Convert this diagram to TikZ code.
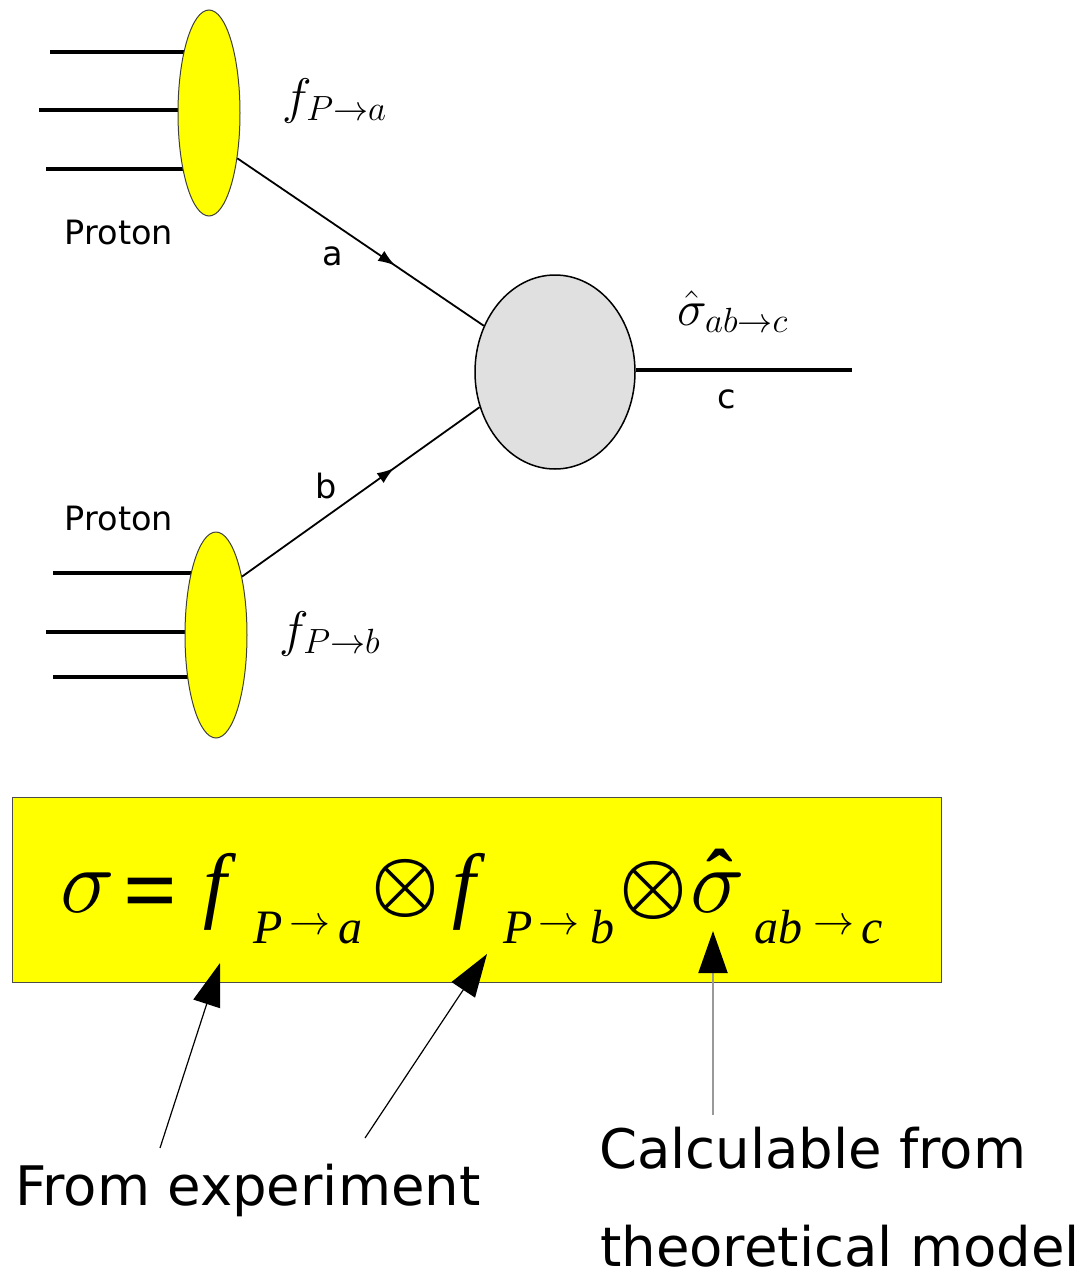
\RequirePackage{fix-cm}
\documentclass[tikz,border=0pt]{standalone}
\usepackage{fontspec}
\usepackage{graphicx}
\usepackage{amsmath}
\usepackage{bm}
\newfontfamily\dvs{DejaVu Sans}
\newfontfamily\tms{Liberation Serif}
\usetikzlibrary{arrows.meta,decorations.markings,shapes.geometric}
\pgfdeclarelayer{bg}
\pgfsetlayers{bg,main}
\definecolor{blobgray}{HTML}{E0E0E0}
\definecolor{pdfyellow}{RGB}{255,255,0}
\begin{document}
\begin{tikzpicture}[x=1pt,y=-1pt,
  lab/.style={font=\dvs\fontsize{33.5}{36}\selectfont, inner sep=0, anchor=base},
  bigtext/.style={font=\dvs\fontsize{54.5}{60}\selectfont, inner sep=0, anchor=base west},
  mlab/.style={font=\fontsize{50}{54}\selectfont, inner sep=0, anchor=base west},
  pdf/.style={ellipse, draw=black!75, line width=1pt, fill=pdfyellow, minimum width=62pt, minimum height=206pt, inner sep=0},
  quark/.style={line width=4pt},
  parton/.style={line width=1.8pt, postaction={decorate},
    decoration={markings, mark=at position 0.64 with {\arrow{Latex[length=17pt,width=12pt]}}}},
  fbig/.style={font=\tms\itshape\fontsize{84}{90}\selectfont, inner sep=0, anchor=base},
  fsig/.style={font=\fontsize{92}{92}\selectfont, inner sep=0, anchor=base},
  fsub/.style={font=\tms\itshape\fontsize{48}{50}\selectfont, inner sep=0, anchor=base},
  farr/.style={font=\fontsize{41}{45}\selectfont, inner sep=0, anchor=center},
  fop/.style={font=\fontsize{76}{80}\selectfont, inner sep=0, anchor=center},
  ptr/.style={line width=1.2pt, -{Triangle[length=43pt,width=28pt]}}
]
\useasboundingbox (0,0) rectangle (1080,1269);

% proton PDFs and hard blob
\node[pdf] (pa) at (209,113) {};
\node[pdf] (pb) at (216,635) {};
\node[ellipse, draw=black, line width=1.5pt, fill=blobgray, minimum width=160pt, minimum height=194pt, inner sep=0] (hs) at (555,372) {};

% quark lines behind the ellipses
\coordinate (qa1) at (50,52);
\coordinate (qa2) at (39,110);
\coordinate (qa3) at (46,169);
\coordinate (qb1) at (53,573);
\coordinate (qb2) at (46,632);
\coordinate (qb3) at (53,677);
\begin{pgfonlayer}{bg}
\draw[quark] (qa1) -- (qa1 -| pa);
\draw[quark] (qa2) -- (qa2 -| pa);
\draw[quark] (qa3) -- (qa3 -| pa);
\draw[quark] (qb1) -- (qb1 -| pb);
\draw[quark] (qb2) -- (qb2 -| pb);
\draw[quark] (qb3) -- (qb3 -| pb);
\end{pgfonlayer}

% partons
\draw[parton] (pa.-58) -- (hs.147);
\draw[parton] (pb.66) -- (hs.205);
\coordinate (cend) at (852,370);
\draw[line width=3.5pt] (hs.east |- cend) -- (cend);

% labels
\node[lab] (proton1) at (119,244) {Proton};
\node[lab] (proton2) at (119,530) {Proton};
\node[lab] (la) at (333,265) {a};
\node[lab] (lb) at (326,498) {b};
\node[lab] (lc) at (727,408) {c};
\node[mlab] (fa) at (282,113) {$f_{P\rightarrow a}$};
\node[mlab] (fb) at (279,646) {$f_{P\rightarrow b}$};
\node[mlab] (sh) at (677,325) {$\hat\sigma_{ab\rightarrow c}$};

% formula box
\node[draw=black!70, line width=1pt, fill=pdfyellow, minimum width=929pt, minimum height=185pt, inner sep=0, anchor=north west] (box) at (12,797) {};
\node[fsig] (s1) at (88,912) {$\sigma$};
\node[fbig, font=\tms\bfseries\fontsize{95}{95}\selectfont] (eq) at (151,922) {=};
\node[fbig] (f1) at (215,912) {f};
\node[fsub] (p1) at (268,943) {P};
\node[farr] (r1) at (310,927) {$\rightarrow$};
\node[fsub] (a1) at (350,943) {a};
\node[fop] (o1) at (405,888) {$\bm{\otimes}$};
\node[fbig] (f2) at (464,912) {f};
\node[fsub] (p2) at (518,943) {P};
\node[farr] (r2) at (559,927) {$\rightarrow$};
\node[fsub] (b2) at (602,943) {b};
\node[fop] (o2) at (653,890) {$\bm{\otimes}$};
\node[fsig] (s2) at (718,912) {$\sigma$};
\node[font=\tms\bfseries\fontsize{80}{80}\selectfont, inner sep=0, anchor=north] (hat) at (720,849) {ˆ};
\node[fsub] (ab) at (778,943) {ab};
\node[farr] (r3) at (834,927) {$\rightarrow$};
\node[fsub] (c3) at (872,943) {c};

% pointers
\coordinate (t1) at (220,963);
\coordinate (u1) at (160,1148);
\coordinate (t2) at (487,954);
\coordinate (u2) at (365,1138);
\coordinate (t3) at (713,931);
\coordinate (u3) at (713,1115);
\draw[ptr] (u1) -- (t1);
\draw[ptr] (u2) -- (t2);
\draw[line width=2pt, draw=black!40, -{Triangle[length=42pt,width=29pt,color=black]}] (u3) -- (t3);

\node[bigtext] (fromexp) at (15,1205) {From experiment};
\node[bigtext] (calc1) at (599,1168) {Calculable from};
\node[bigtext] (calc2) at (600,1266) {theoretical model};
\end{tikzpicture}
\end{document}
